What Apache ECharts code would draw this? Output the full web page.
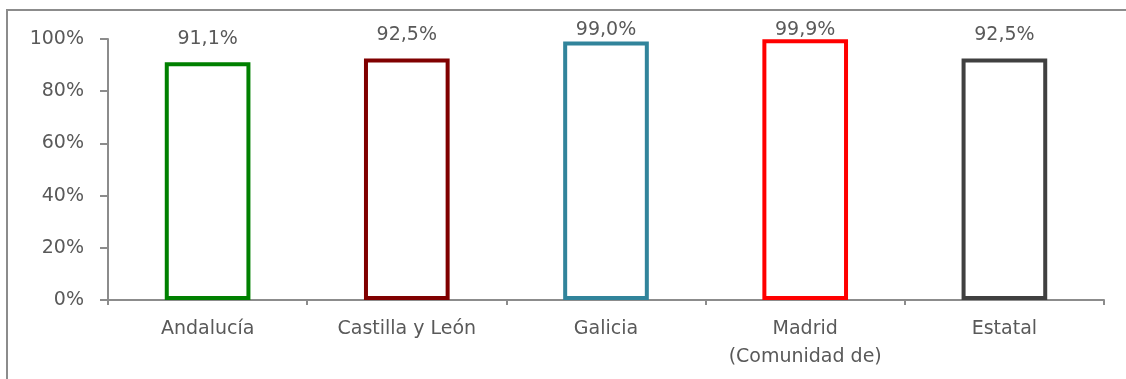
<!DOCTYPE html>
<html>
<head>
<meta charset="utf-8">
<script src="https://cdn.jsdelivr.net/npm/echarts@6/dist/echarts.min.js"></script>
<style>
  html, body { margin: 0; padding: 0; background: #ffffff; }
  #chart { width: 1126px; height: 379px; }
</style>
</head>
<body>
<div id="chart"></div>
<script>
// Share of coverage by region (percent)
const regions = ['Andalucía', 'Castilla y León', 'Galicia', 'Madrid\n(Comunidad de)', 'Estatal'];
const values = [91.1, 92.5, 99.0, 99.9, 92.5];
const barColors = ['#008000', '#800000', '#31849B', '#FF0000', '#404040'];
const yTicks = [0, 20, 40, 60, 80, 100];

const fontFamily = '"DejaVu Sans", Verdana, sans-serif';
const textColor = '#595959';
const axisColor = '#8c8c8c';

const chart = echarts.init(document.getElementById('chart'), null, { renderer: 'canvas' });

// Labels of the tallest bars sit closer to them so they stay inside the frame
function labelDistance(v) {
  if (v >= 99.5) return 0;
  if (v >= 98.5) return 2;
  return 14;
}

chart.setOption({
  animation: false,
  backgroundColor: '#ffffff',
  graphic: [{
    type: 'polyline',
    shape: { points: [[7, 380], [7, 10], [1127, 10]] },
    style: { stroke: axisColor, lineWidth: 2, fill: null },
    silent: true
  }],
  grid: { left: 108, right: 22, top: 39, bottom: 79, containLabel: false },
  xAxis: {
    type: 'category',
    data: regions,
    axisLine: { show: true, lineStyle: { color: axisColor, width: 2 } },
    axisTick: { show: true, alignWithLabel: false, length: 5, lineStyle: { color: axisColor, width: 2 } },
    axisLabel: {
      color: textColor, fontSize: 19, fontFamily: fontFamily,
      margin: 15, lineHeight: 28, interval: 0
    }
  },
  yAxis: {
    type: 'value',
    min: yTicks[0],
    max: yTicks[yTicks.length - 1],
    interval: 20,
    axisLine: { show: true, lineStyle: { color: axisColor, width: 2 } },
    axisTick: { show: true, inside: false, length: 8, lineStyle: { color: axisColor, width: 2 } },
    splitLine: { show: false },
    axisLabel: {
      color: textColor, fontSize: 19, fontFamily: fontFamily, margin: 24,
      formatter: v => v + '%'
    }
  },
  series: [{
    type: 'bar',
    barWidth: '43%',
    data: values.map((v, i) => ({
      value: v,
      itemStyle: { color: '#ffffff', borderColor: barColors[i], borderWidth: 4 },
      label: { distance: labelDistance(v) }
    })),
    label: {
      show: true,
      position: 'top',
      color: textColor,
      fontSize: 19,
      fontFamily: fontFamily,
      formatter: p => p.value.toFixed(1).replace('.', ',') + '%'
    }
  }]
});
</script>
</body>
</html>
